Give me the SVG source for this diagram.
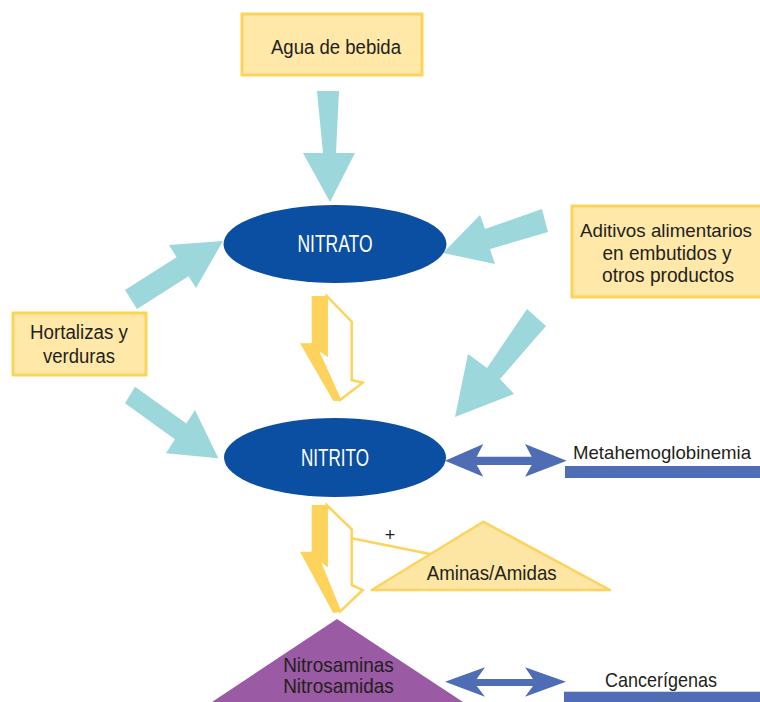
<svg xmlns="http://www.w3.org/2000/svg" width="760" height="702" viewBox="0 0 760 702">
<style>
.box{fill:#FFE8A8;stroke:#FDD45A;stroke-width:3}
.cyan{fill:#9CD7DB}
.ell{fill:#0B4FA2}
.blue{fill:#4F6DB5}
.yfill{fill:#FDD35B}
.yout{fill:#FFFFFF;stroke:#FDD35B;stroke-width:2.5;stroke-linejoin:miter}
.t{font-family:"Liberation Sans",Arial,sans-serif;font-size:20px;fill:#231F20}
.w{font-family:"Liberation Sans",Arial,sans-serif;font-size:24px;fill:#FFFFFF}
.c{text-anchor:middle}
</style>
<rect width="760" height="702" fill="#FFFFFF"/>
<g id="connectors">
  <polygon class="cyan" points="317,91 339,91 336,153 355,153 330,202 303,153 323,153"/>
  <polygon class="cyan" points="125,290 176.6,257.2 169,245 223,241 196,288 188.6,276.2 137,309"/>
  <polygon class="cyan" points="135,386.7 186.3,423.4 195,410 218.3,458.3 166,453.3 174.9,439.2 125,403.3"/>
  <polygon class="cyan" points="542,209 485,229 480,215 443,253 495,264 490,249 548,232"/>
  <polygon class="cyan" points="527,309 487,368 468,354 455,417 514,394 500,379 546,326"/>
  <g id="bolt1">
    <polygon class="yfill" points="311.7,296 326.7,296 326.7,355 316.7,348.3 340,401 333.3,401 300,343.3 311.7,343.3"/>
    <polygon class="yout" points="326.7,296 351.7,321.7 351.7,380 362.7,382.7 340,400 316.7,348.3 326.7,355"/>
  </g>
  <g id="bolt2">
    <polygon class="yfill" points="311.7,505 326.7,505 326.7,565 318.3,558.3 340,611.7 333.3,613.3 300,551.7 311.7,551.7"/>
    <polygon class="yout" points="326.7,505 351.7,529.3 351.7,585 362.7,590 340,611.7 318.3,558.3 326.7,565"/>
  </g>
  <line x1="351.7" y1="538.3" x2="430" y2="554" stroke="#FDD35B" stroke-width="2.5"/>
  <text class="t c" x="390" y="541" style="font-size:18px">+</text>
  <polygon class="blue" points="445,460.7 483.3,444 476.7,456.7 531.7,456.7 525,444 566.7,460.7 525,476.7 531.7,465 476.7,465 483.3,476.7"/>
  <polygon class="blue" points="445,681.7 485,667.3 476.7,679 533,679 525,667.3 566,681.7 525,696.7 533,686 476.7,686 485,696.7"/>
</g>
<g id="agua">
  <rect class="box" x="242" y="14" width="180" height="61"/>
  <text class="t c" x="336" y="54" textLength="130" lengthAdjust="spacingAndGlyphs">Agua de bebida</text>
</g>
<g id="hortalizas">
  <rect class="box" x="13" y="313" width="133" height="62"/>
  <text class="t c" x="79" y="338.5" textLength="98" lengthAdjust="spacingAndGlyphs">Hortalizas y</text>
  <text class="t c" x="79" y="363" textLength="72" lengthAdjust="spacingAndGlyphs">verduras</text>
</g>
<g id="aditivos">
  <rect class="box" x="572" y="206" width="190" height="91"/>
  <text class="t c" x="666" y="237.3" style="font-size:19px" textLength="172" lengthAdjust="spacingAndGlyphs">Aditivos alimentarios</text>
  <text class="t c" x="667" y="259.5" textLength="129" lengthAdjust="spacingAndGlyphs">en embutidos y</text>
  <text class="t c" x="668" y="281.7" textLength="132" lengthAdjust="spacingAndGlyphs">otros productos</text>
</g>
<g id="nitrato">
  <ellipse class="ell" cx="335" cy="244" rx="111.5" ry="39"/>
  <text class="w c" x="335" y="252" textLength="75" lengthAdjust="spacingAndGlyphs">NITRATO</text>
</g>
<g id="nitrito">
  <ellipse class="ell" cx="335" cy="457.5" rx="111" ry="39.5"/>
  <text class="w c" x="335" y="466" textLength="68" lengthAdjust="spacingAndGlyphs">NITRITO</text>
</g>
<g id="aminas">
  <polygon points="483.3,521.7 610,590 371.7,590" fill="#FDE6A4" stroke="#FDD35B" stroke-width="2.5" stroke-linejoin="round"/>
  <text class="t c" x="491.7" y="580" style="font-size:21px" textLength="130" lengthAdjust="spacingAndGlyphs">Aminas/Amidas</text>
</g>
<g id="nitrosaminas">
  <polygon points="337,619 463,702 212,702" fill="#9A5AA4"/>
  <text class="t c" x="338.5" y="671.7" style="font-size:21px" textLength="110.7" lengthAdjust="spacingAndGlyphs">Nitrosaminas</text>
  <text class="t c" x="338.5" y="693" style="font-size:21px" textLength="110.7" lengthAdjust="spacingAndGlyphs">Nitrosamidas</text>
</g>
<g id="metahemoglobinemia">
  <rect class="blue" x="565" y="466" width="195" height="12"/>
  <text class="t" x="573" y="459.3" style="font-size:18.5px" textLength="178" lengthAdjust="spacingAndGlyphs">Metahemoglobinemia</text>
</g>
<g id="cancerigenas">
  <rect class="blue" x="564" y="691.7" width="196" height="11"/>
  <text class="t" x="605" y="687" style="font-size:21px" textLength="112" lengthAdjust="spacingAndGlyphs">Cancerígenas</text>
</g>
</svg>
